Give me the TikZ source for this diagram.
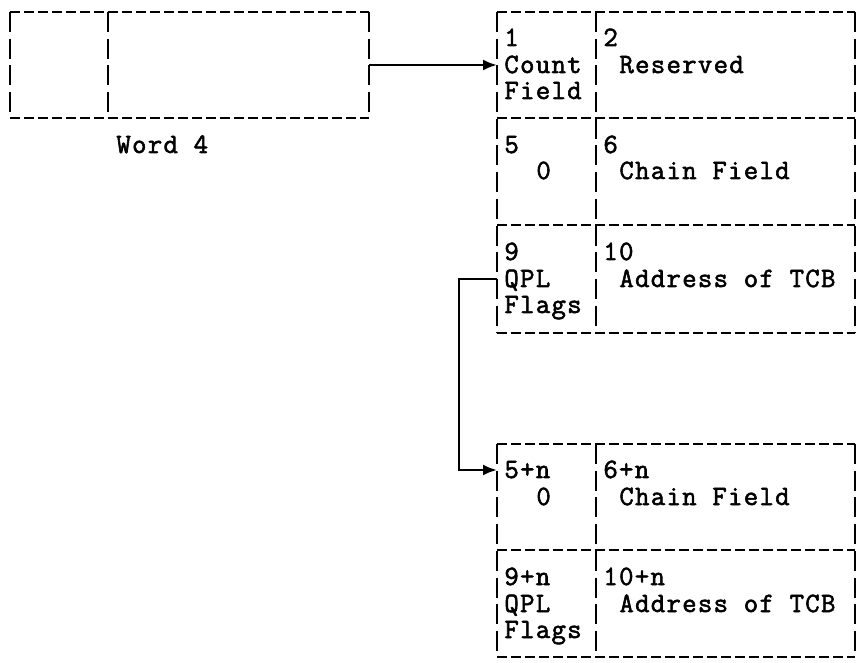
\documentclass[tikz,border=0pt]{standalone}
\usepackage{fontspec}
\newfontfamily\typew[LetterSpace=4.6, BoldFont={*}, BoldFeatures={FakeBold=2}]{Latin Modern Mono}
\usetikzlibrary{arrows.meta}
\tikzset{
  hdash/.style={line width=1.2pt, dash pattern=on 5pt off 2pt},
  vdash/.style={line width=1.2pt, dash pattern=on 10pt off 3.35pt},
  txt/.style={anchor=base west, inner sep=0pt,
    font=\typew\bfseries\fontsize{14}{14}\selectfont},
  link/.style={line width=1.2pt, -{Latex[length=7pt,width=5.5pt]}}
}
\begin{document}
\begin{tikzpicture}[x=0.5pt, y=-0.5pt]
    \useasboundingbox (0, 0) rectangle (863, 663);
    \coordinate (wordR) at (369, 65);
    \coordinate (countL) at (497, 65);
    \coordinate (qplL) at (497, 279);
    \coordinate (bend) at (459, 0);
    \coordinate (nextL) at (497, 470);
    % word 4
    \draw[hdash] (10, 12) -- (369, 12);
    \draw[hdash] (10, 118) -- (369, 118);
    \draw[vdash] (10, 12) -- (10, 118);
    \draw[vdash] (108, 12) -- (108, 118);
    \draw[vdash] (369, 12) -- (369, 118);
    \node[txt] (word) at (116, 153) {Word 4};
    % queue element
    \draw[hdash] (497, 12) -- (855, 12);
    \draw[hdash] (497, 118) -- (855, 118);
    \draw[hdash] (497, 225) -- (855, 225);
    \draw[hdash] (497, 333) -- (855, 333);
    \draw[vdash] (497, 12) -- (497, 333);
    \draw[vdash] (596, 12) -- (596, 333);
    \draw[vdash] (855, 12) -- (855, 333);
    \node[txt] (n1) at (504, 46) {1};
    \node[txt] (count) at (504, 73) {Count};
    \node[txt] (field) at (504, 99) {Field};
    \node[txt] (n2) at (603, 46) {2};
    \node[txt] (rsvd) at (619, 73) {Reserved};
    \node[txt] (n5) at (504, 153) {5};
    \node[txt] (zero) at (536, 179) {0};
    \node[txt] (n6) at (603, 153) {6};
    \node[txt] (chain) at (619, 179) {Chain Field};
    \node[txt] (n9) at (504, 260) {9};
    \node[txt] (qpl) at (504, 287) {QPL};
    \node[txt] (flags) at (504, 313) {Flags};
    \node[txt] (n10) at (603, 260) {10};
    \node[txt] (tcb) at (619, 287) {Address of TCB};
    % next element
    \draw[hdash] (497, 444) -- (855, 444);
    \draw[hdash] (497, 550) -- (855, 550);
    \draw[hdash] (497, 657) -- (855, 657);
    \draw[vdash] (497, 444) -- (497, 657);
    \draw[vdash] (596, 444) -- (596, 657);
    \draw[vdash] (855, 444) -- (855, 657);
    \node[txt] (m5) at (504, 478) {5+n};
    \node[txt] (mzero) at (536, 505) {0};
    \node[txt] (m6) at (603, 478) {6+n};
    \node[txt] (mchain) at (619, 505) {Chain Field};
    \node[txt] (m9) at (504, 585) {9+n};
    \node[txt] (mqpl) at (504, 612) {QPL};
    \node[txt] (mflags) at (504, 638) {Flags};
    \node[txt] (m10) at (603, 585) {10+n};
    \node[txt] (mtcb) at (619, 612) {Address of TCB};
    % pointers
    \draw[link] (wordR) -- (countL);
    \draw[link] (qplL) -- (qplL -| bend) -- (bend |- nextL) -- (nextL);
\end{tikzpicture}
\end{document}
